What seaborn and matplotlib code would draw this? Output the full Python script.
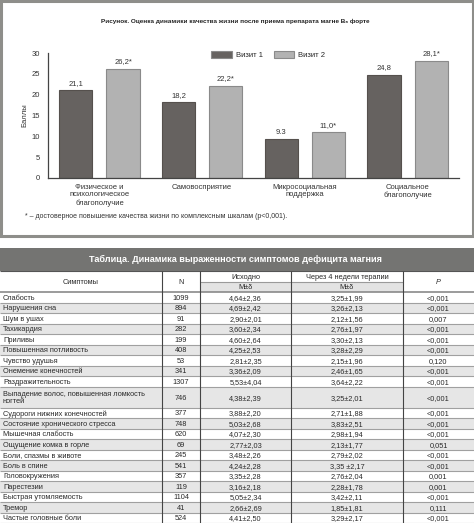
import numpy as np
import pandas as pd
import matplotlib
matplotlib.use('Agg')
import matplotlib.pyplot as plt
from matplotlib.patches import Rectangle
import seaborn as sns

# --- chart data ---
categories = ['Физическое и\nпсихологическое\nблагополучие', 'Самовосприятие',
              'Микросоциальная\nподдержка', 'Социальное\nблагополучие']
visits = ['Визит 1', 'Визит 2']
visit1 = [21.1, 18.2, 9.3, 24.8]
visit2 = [26.2, 22.2, 11.0, 28.1]
visit1_labels = ['21,1', '18,2', '9.3', '24,8']
visit2_labels = ['26,2*', '22,2*', '11,0*', '28,1*']
y_ticks = [0, 5, 10, 15, 20, 25, 30]

# --- table data ---
symptoms = ['Слабость', 'Нарушения сна', 'Шум в ушах', 'Тахикардия', 'Приливы',
            'Повышенная потливость', 'Чувство удушья', 'Онемение конечностей',
            'Раздражительность', 'Выпадение волос, повышенная ломкость\nногтей',
            'Судороги нижних конечностей', 'Состояние хронического стресса',
            'Мышечная слабость', 'Ощущение комка в горле', 'Боли, спазмы в животе',
            'Боль в спине', 'Головокружения', 'Парестезии', 'Быстрая утомляемость',
            'Тремор', 'Частые головные боли']
n_patients = ['1099', '894', '91', '282', '199', '408', '53', '341', '1307', '746',
              '377', '748', '620', '69', '245', '541', '357', '119', '1104', '41', '524']
baseline = ['4,64±2,36', '4,69±2,42', '2,90±2,01', '3,60±2,34', '4,60±2,64',
            '4,25±2,53', '2,81±2,35', '3,36±2,09', '5,53±4,04', '4,38±2,39',
            '3,88±2,20', '5,03±2,68', '4,07±2,30', '2,77±2,03', '3,48±2,26',
            '4,24±2,28', '3,35±2,28', '3,16±2,18', '5,05±2,34', '2,66±2,69', '4,41±2,50']
after_4w = ['3,25±1,99', '3,26±2,13', '2,12±1,56', '2,76±1,97', '3,30±2,13',
            '3,28±2,29', '2,15±1,96', '2,46±1,65', '3,64±2,22', '3,25±2,01',
            '2,71±1,88', '3,83±2,51', '2,98±1,94', '2,13±1,77', '2,79±2,02',
            '3,35 ±2,17', '2,76±2,04', '2,28±1,78', '3,42±2,11', '1,85±1,81', '3,29±2,17']
p_values = ['<0,001', '<0,001', '0,007', '<0,001', '<0,001', '<0,001', '0,120',
            '<0,001', '<0,001', '<0,001', '<0,001', '<0,001', '<0,001', '0,051',
            '<0,001', '<0,001', '0,001', '0,001', '<0,001', '0,111', '<0,001']

sns.set_style('white')
plt.rcParams['font.family'] = ['Liberation Sans', 'DejaVu Sans']

dark = '#67625f'
light = '#b2b2b2'
frame_gray = '#8e8e8a'
txt = '#333333'

fig = plt.figure(figsize=(4.74, 5.26), dpi=100)

# frame around the figure part
fig.patches.append(Rectangle((0.002, 0.5513), 0.996, 0.4467, transform=fig.transFigure,
                             fill=False, edgecolor=frame_gray, linewidth=2.2))

fig.text(0.496, 0.960, 'Рисунок. Оценка динамики качества жизни после приема препарата магне B₆ форте',
         ha='center', va='center', fontsize=4.6, fontweight='bold', color='#222222')

# --- bar chart ---
df = pd.DataFrame({
    'Шкала': categories * 2,
    'Визит': [visits[0]] * 4 + [visits[1]] * 4,
    'Баллы': visit1 + visit2,
})

ax = fig.add_axes([0.1013, 0.6616, 0.8671, 0.2376])
sns.barplot(data=df, x='Шкала', y='Баллы', hue='Визит', order=categories,
            hue_order=visits, palette=[dark, light], width=0.92, gap=0.3,
            edgecolor='#8a8a8a', linewidth=0.8, ax=ax)
for bar in ax.containers[0]:
    bar.set_edgecolor('#55504d')
for cont, labs in zip(ax.containers, [visit1_labels, visit2_labels]):
    ax.bar_label(cont, labels=labs, padding=2.5, fontsize=5.5, color=txt)

ax.set_xlim(-0.5, 3.5)
ax.set_ylim(0, 30)
ax.set_yticks(y_ticks)
ax.tick_params(axis='y', direction='in', length=7, width=0.8, color='#666666',
               labelsize=5.5, labelcolor=txt, pad=6)
ax.tick_params(axis='x', length=0, labelsize=5.5, labelcolor=txt, pad=4)
ax.set_xticks(range(4))
ax.set_xticklabels(categories, linespacing=1.15)
ax.set_xticks([0.5, 1.5, 2.5, 3.5], minor=True)
ax.tick_params(axis='x', which='minor', direction='in', length=3, width=0.7, color='#666666')
ax.set_xlabel('')
ax.set_ylabel('Баллы', fontsize=5.5, color=txt, labelpad=2)
for side in ['top', 'right']:
    ax.spines[side].set_visible(False)
for side in ['left', 'bottom']:
    ax.spines[side].set_color('#444444')
    ax.spines[side].set_linewidth(0.9)

handles, labels = ax.get_legend_handles_labels()
ax.legend_.remove()
fig.legend(handles, labels, loc='center', bbox_to_anchor=(0.566, 0.8954),
           bbox_transform=fig.transFigure, ncol=2, frameon=False, fontsize=5.5,
           handlelength=2.7, handleheight=1.1, handletextpad=0.5, columnspacing=1.4)

fig.text(0.053, 1 - 217 / 526,
         '* – достоверное повышение качества жизни по комплексным шкалам (p<0,001).',
         ha='left', va='center', fontsize=5.0, color=txt)

# --- table ---
fig.patches.append(Rectangle((0, 1 - 271 / 526), 1, 23 / 526, transform=fig.transFigure,
                             facecolor='#747472', edgecolor='none'))
fig.text(0.496, 1 - 259.5 / 526, 'Таблица. Динамика выраженности симптомов дефицита магния',
         ha='center', va='center', fontsize=6.6, fontweight='bold', color='white')

row_units = [2 if '\n' in s else 1 for s in symptoms]
total = 2 + sum(row_units)
col_edges = [0, 162, 200, 291, 403, 474]
col_mid = [(a + b) / 2 for a, b in zip(col_edges[:-1], col_edges[1:])]

tx = fig.add_axes([0, 1 - 523 / 526, 1, 252 / 526])
tx.set_xlim(0, 474)
tx.set_ylim(total, 0)
tx.axis('off')

fs = 5.3
tc = '#2a2a2a'
off = 0.1
# header
tx.fill_between([col_edges[2], col_edges[4]], 1, 2, color='#e3e3e3', lw=0)
tx.text(col_mid[0], 1 + off, 'Симптомы', ha='center', va='center', fontsize=fs, color=tc)
tx.text(col_mid[1], 1 + off, 'N', ha='center', va='center', fontsize=fs, color=tc)
tx.text(col_mid[2], 0.5 + off, 'Исходно', ha='center', va='center', fontsize=fs, color=tc)
tx.text(col_mid[3], 0.5 + off, 'Через 4 недели терапии', ha='center', va='center', fontsize=fs, color=tc)
tx.text(col_mid[2], 1.5 + off, 'M±δ', ha='center', va='center', fontsize=fs, color=tc)
tx.text(col_mid[3], 1.5 + off, 'M±δ', ha='center', va='center', fontsize=fs, color=tc)
tx.text(col_mid[4], 1 + off, 'P', ha='center', va='center', fontsize=fs, color=tc, style='italic')
tx.hlines(1, col_edges[2], col_edges[4], color='#9a9a9a', lw=0.8)

# body rows
y = 2
for i, (s, n, b, a, p) in enumerate(zip(symptoms, n_patients, baseline, after_4w, p_values)):
    h = row_units[i]
    if i % 2 == 1:
        tx.fill_between([0, 474], y, y + h, color='#e6e6e6', lw=0)
    yc = y + h / 2 + off
    tx.text(3, yc, s, ha='left', va='center', fontsize=fs, color=tc, linespacing=1.15)
    for j, v in enumerate([n, b, a, p]):
        tx.text(col_mid[j + 1], yc, v, ha='center', va='center', fontsize=fs, color=tc)
    y += h
    tx.hlines(y, 0, 474, color='#a0a0a0', lw=0.8)

tx.hlines(2, 0, 474, color='#8a8a8a', lw=1.2)
tx.hlines(0, 0, 474, color='#555555', lw=0.8)
tx.vlines(col_edges[1:-1], 0, total, color='#444444', lw=0.8)

fig.savefig('out.png', dpi=100)
